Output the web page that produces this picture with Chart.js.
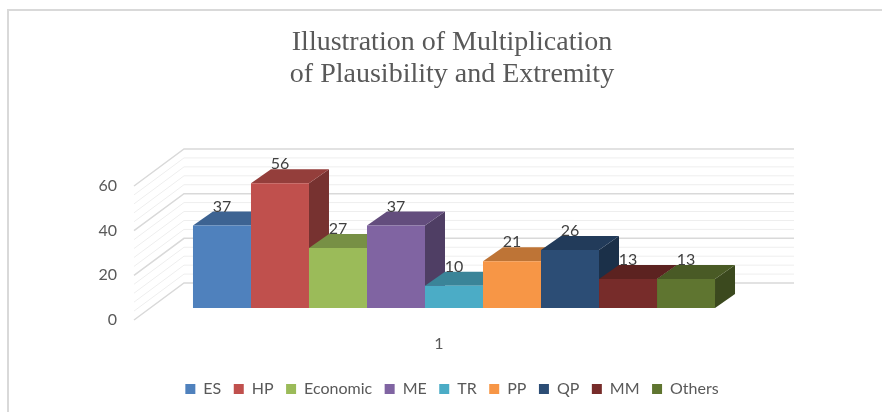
<!DOCTYPE html>
<html>
<head>
<meta charset="utf-8">
<script src="https://cdn.jsdelivr.net/npm/chart.js@4.4.1/dist/chart.umd.min.js"></script>
<style>
  html, body { margin: 0; padding: 0; background: #fff; }
  #wrap { position: relative; width: 882px; height: 412px; overflow: hidden; }
  #frame { position: absolute; left: 7px; top: 9px; width: 920px; height: 440px;
           border: 2px solid #d9d9d9; box-sizing: border-box; }
  canvas { position: absolute; left: 0; top: 0; }
</style>
</head>
<body>
<div id="wrap">
  <div id="frame"></div>
  <canvas id="chart" width="882" height="412"></canvas>
</div>
<script>
/* 3D clustered column, one category */

const CATEGORIES = ['1'];
const SERIES = ['ES', 'HP', 'Economic', 'ME', 'TR', 'PP', 'QP', 'MM', 'Others'];
const VALUES = [37, 56, 27, 37, 10, 21, 26, 13, 13];
const COLORS = ['#4F81BD', '#C0504D', '#9BBB59', '#8064A2', '#4BACC6', '#F79646', '#2C4D75', '#772C2A', '#5F7530'];
const Y_TICKS = [0, 20, 40, 60];
const TITLE = ['Illustration of Multiplication', 'of Plausibility and Extremity'];

const SANS = 'Lato, "Open Sans", sans-serif';
const WALL = { dx: 50, dy: -37, front: -14, extra: 34 };   // floor/walls depth
const BAR_DEPTH = { dx: 20, dy: -14 };
const PAD_BOTTOM = 5;

// ─── Helpers ───
function shade(hex, f) {
  const n = parseInt(hex.slice(1), 16);
  const r = Math.round(((n >> 16) & 255) * f);
  const g = Math.round(((n >> 8) & 255) * f);
  const b = Math.round((n & 255) * f);
  return `rgb(${r},${g},${b})`;
}

function poly(ctx, pts, fill) {
  ctx.beginPath();
  ctx.moveTo(pts[0][0], pts[0][1]);
  for (let i = 1; i < pts.length; i++) ctx.lineTo(pts[i][0], pts[i][1]);
  ctx.closePath();
  ctx.fillStyle = fill;
  ctx.fill();
}

// ─── Walls + 3D faces, drawn before the front faces ───
const depthPlugin = {
  id: 'depth',
  beforeDatasetsDraw(chart) {
    const { ctx, chartArea: a, scales } = chart;
    const y = scales.y;
    const fx = a.left + WALL.front;             // front-left edge of side wall
    const bx = fx + WALL.dx;                    // back-left corner
    const rx = a.right + WALL.extra;            // back wall right edge
    ctx.save();
    for (let v = 0; v <= 60; v += 4) {
      const py = y.getPixelForValue(v);
      const major = v % 20 === 0;
      ctx.strokeStyle = major ? '#d9d9d9' : '#eeeeee';
      ctx.lineWidth = major ? 1.5 : 1;
      ctx.beginPath();
      ctx.moveTo(fx, py);
      ctx.lineTo(bx, py + WALL.dy);
      ctx.lineTo(rx, py + WALL.dy);
      ctx.stroke();
    }
    // side + top faces, left to right
    chart.data.datasets.forEach((ds, i) => {
      const bar = chart.getDatasetMeta(i).data[0];
      if (!bar) return;
      const { x, y: top, base, width } = bar.getProps(['x', 'y', 'base', 'width'], true);
      const l = x - width / 2, r = x + width / 2;
      const { dx, dy } = BAR_DEPTH;
      poly(ctx, [[r, top], [r + dx, top + dy], [r + dx, base + dy], [r, base]], shade(ds.backgroundColor, 0.62));
      poly(ctx, [[l, top], [l + dx, top + dy], [r + dx, top + dy], [r, top]], shade(ds.backgroundColor, 0.77));
    });
    ctx.restore();
  },
  afterDatasetsDraw(chart) {
    const { ctx } = chart;
    ctx.save();
    ctx.font = `16px ${SANS}`;
    ctx.fillStyle = '#404040';
    ctx.textAlign = 'center';
    ctx.textBaseline = 'middle';
    chart.data.datasets.forEach((ds, i) => {
      const bar = chart.getDatasetMeta(i).data[0];
      if (!bar) return;
      ctx.fillText(String(ds.data[0]), bar.x, bar.y - 19);
    });
    ctx.restore();
  },
};

// ─── Chart ───
new Chart(document.getElementById('chart'), {
  type: 'bar',
  data: {
    labels: CATEGORIES,
    datasets: SERIES.map((name, i) => ({
      label: name,
      data: [VALUES[i]],
      backgroundColor: COLORS[i],
      borderWidth: 0,
      yAxisID: 'yb',
      clip: false,
      barPercentage: 1,
      categoryPercentage: 0.853,
    })),
  },
  options: {
    responsive: false,
    animation: false,
    devicePixelRatio: 1,
    layout: { padding: { left: 22, right: 0, top: 0, bottom: PAD_BOTTOM } },
    plugins: {
      title: {
        display: true,
        text: TITLE,
        color: '#595959',
        font: { family: '"Liberation Serif", "Times New Roman", serif', size: 28, weight: 'normal', lineHeight: '32px' },
        padding: { top: 27, bottom: 95 },
      },
      legend: {
        position: 'bottom',
        labels: {
          boxWidth: 10,
          boxHeight: 10,
          padding: 12.5,
          color: '#595959',
          font: { family: SANS, size: 16 },
        },
      },
      tooltip: { enabled: false },
    },
    scales: {
      x: {
        grid: { display: false, drawTicks: false },
        border: { display: false },
        ticks: { color: '#595959', font: { family: SANS, size: 16 }, labelOffset: -15, padding: 14 },
        afterFit(s) {
          const leg = s.chart.legend ? s.chart.legend.height : 40;
          s.height = 412 - 320 - leg - PAD_BOTTOM;
        },
      },
      y: {
        position: 'left',
        min: 0,
        max: 60,
        afterBuildTicks(s) { s.ticks = Y_TICKS.map((v) => ({ value: v })); },
        grid: { display: false, drawTicks: false },
        border: { display: false },
        ticks: { color: '#595959', font: { family: SANS, size: 16 }, padding: 31 },
        afterFit(s) { s.width = 126; },
      },
      yb: {
        position: 'right',
        min: -5.4,
        max: 54.8,
        grid: { display: false, drawTicks: false },
        border: { display: false },
        ticks: { display: false },
        afterFit(s) { s.width = 122; },
      },
    },
  },
  plugins: [depthPlugin],
});
</script>
</body>
</html>
